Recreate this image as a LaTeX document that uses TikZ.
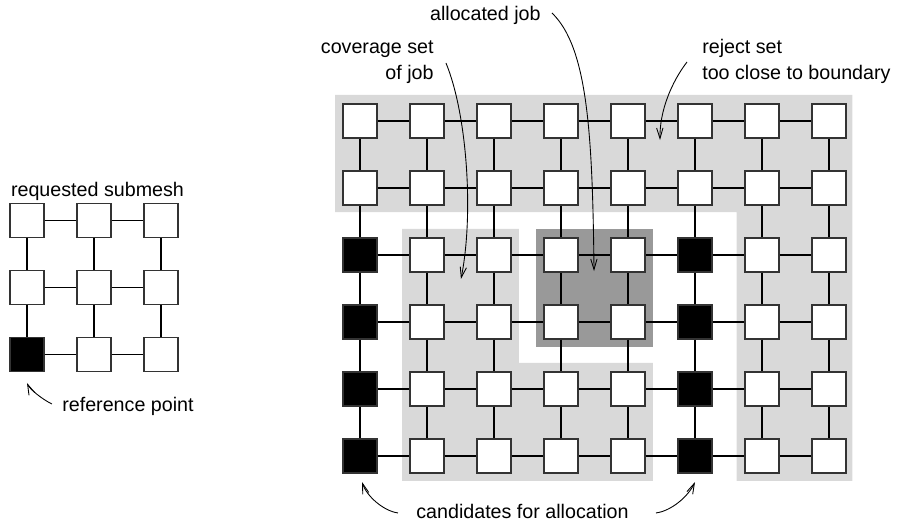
\documentclass[tikz,border=0pt]{standalone}
\usepackage{fontspec}
\setmainfont{Liberation Sans}
\usetikzlibrary{arrows.meta}

\begin{document}
\begin{tikzpicture}[x=1.34cm,y=1.34cm,font=\fontsize{11.2}{15.3}\selectfont,
   pe/.style={draw=black!80,line width=0.6pt,fill=#1,minimum size=0.68cm,inner sep=0pt,rectangle},
   lnk/.style={line width=0.6pt},
   lbl/.style={inner sep=0pt},
   note/.style={line width=0.5pt,-{Straight Barb[length=6pt,width=3.6pt]}}]
\useasboundingbox (-4.373,0.806) rectangle (9.015,-7.090);
% reject set, coverage set, allocated job
\fill[black!15] (0.63,-0.61) -- (8.35,-0.61) -- (8.35,-6.37) -- (6.62,-6.37)
   -- (6.62,-2.36) -- (0.63,-2.36) -- cycle;
\fill[black!15] (1.63,-2.61) -- (3.37,-2.61) -- (3.37,-4.61) -- (5.37,-4.61)
   -- (5.37,-6.37) -- (1.63,-6.37) -- cycle;
\fill[black!40] (3.63,-2.61) rectangle (5.37,-4.37);
% mesh
\foreach \x in {1,...,8} {
\foreach \y in {1,...,6} {
   \def\fc{white}
   \ifnum\y>2 \ifnum\x=1 \def\fc{black}\fi \ifnum\x=6 \def\fc{black}\fi \fi
   \node[pe=\fc](m-\x-\y) at (\x,-\y) {};
}}
\foreach \x [count=\n from 2] in {1,...,7} {
\foreach \y in {1,...,6} {
   \draw[lnk] (m-\x-\y) -- (m-\n-\y);
}}
\foreach \x in {1,...,8} {
\foreach \y [count=\n from 2] in {1,...,5} {
   \draw[lnk] (m-\x-\y) -- (m-\x-\n);
}}
% requested submesh
\begin{scope}[shift={(-4.97,-1.49)}]
\foreach \x in {1,2,3} {
\foreach \y in {1,2,3} {
   \def\fc{white}
   \ifnum\y=3 \ifnum\x=1 \def\fc{black}\fi \fi
   \node[pe=\fc](s-\x-\y) at (\x,-\y) {};
}}
\foreach \x/\n in {1/2,2/3} {
\foreach \y in {1,2,3} {
   \draw[lnk] (s-\x-\y) -- (s-\n-\y);
   \draw[lnk] (s-\y-\x) -- (s-\y-\n);
}}
\end{scope}
% labels
\node[lbl,anchor=base](lreq) at (-2.918,-2.134) {requested submesh};
\node[lbl,anchor=base west](lref) at (-3.448,-5.343) {reference point};
\node[lbl,anchor=base east](lalloc) at (3.701,0.493) {allocated job};
\node[lbl,anchor=base east,align=right](lcov) at (2.104,-0.388) {coverage set\\of job};
\node[lbl,anchor=base west,align=left](lrej) at (6.104,-0.388) {reject set\\too close to boundary};
\node[lbl,anchor=base](lcand) at (3.425,-6.940) {candidates for allocation};
% arrow tips
\coordinate (tref) at (-3.970,-4.910);
\coordinate (talloc) at (4.493,-3.239);
\coordinate (tcov) at (2.507,-3.358);
\coordinate (trej) at (5.478,-1.284);
\coordinate (tcandl) at (1.030,-6.388);
\coordinate (tcandr) at (6.000,-6.388);
\draw[note] ([shift={(-0.149,0.119)}]lref.base west)
   .. controls (-3.75,-5.15) and (-3.93,-5.0) .. (tref);
\draw[note] ([shift={(0.164,0.119)}]lalloc.base east)
   .. controls (4.4,0.1) and (4.47,-1.2) .. (talloc);
\draw[note] ([shift={(0.179,0.254)}]lcov.base east)
   .. controls (2.6,-0.9) and (2.7,-2.4) .. (tcov);
\draw[note] ([shift={(-0.223,0.269)}]lrej.base west)
   .. controls (5.65,-0.42) and (5.47,-0.85) .. (trej);
\draw[note] ([shift={(-0.269,0.090)}]lcand.base west)
   .. controls (1.35,-6.82) and (1.1,-6.6) .. (tcandl);
\draw[note] ([shift={(0.403,0.090)}]lcand.base east)
   .. controls (5.65,-6.82) and (5.9,-6.6) .. (tcandr);
\end{tikzpicture}
\end{document}
